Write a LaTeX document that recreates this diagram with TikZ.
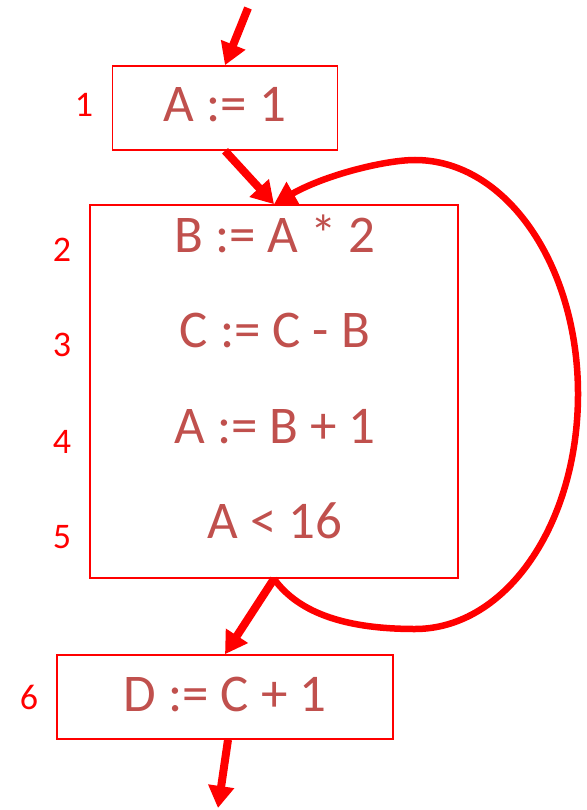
\documentclass[tikz,border=0pt]{standalone}
\usepackage{fontspec}
\setmainfont{Carlito}
\usepackage{tikz}
\usetikzlibrary{arrows.meta}
\definecolor{CFGRed}{RGB}{255,0,0}
\definecolor{CFGText}{RGB}{192,80,77}

\begin{document}
\begin{tikzpicture}[
    x=1pt,y=-1pt,
    block/.style={draw=CFGRed, line width=1.6pt, minimum height=84pt, inner sep=0pt, text height=33.5pt, text depth=5.5pt, font=\fontsize{53}{60}\selectfont, text=CFGText},
    stmt/.style={anchor=base, font=\fontsize{53}{60}\selectfont, text=CFGText},
    lineno/.style={anchor=base, font=\fontsize{36}{40}\selectfont, text=CFGRed},
    flow/.style={-{Triangle[length=22pt, width=25pt]}, line width=8pt, draw=CFGRed},
    back/.style={flow, line width=6.5pt}
  ]
    \useasboundingbox (0,0) rectangle (586,810);
    % basic blocks
    \node[block, minimum width=225pt] (b1) at (225,108) {A := 1};
    \node[block, minimum width=368pt, minimum height=373pt] (b2) at (274,391.5) {};
    \node[block, minimum width=336pt] (b6) at (225,697) {D := C + 1};
    \foreach \y/\name/\lab in {252/s2/{B := A * 2},347/s3/{C := C - B},443/s4/{A := B + 1},538/s5/{A < 16}} {
      \node[stmt] (\name) at (275,\y) {\lab};
    }
    % statement numbers
    \foreach \x/\y/\name/\lab in {84/117/n1/1,62/261/n2/2,62/356/n3/3,62/453/n4/4,62/548/n5/5,29/709/n6/6} {
      \node[lineno] (\name) at (\x,\y) {\lab};
    }
    % edges
    \coordinate (entry) at (248,8);
    \coordinate (exit) at (218,808);
    \draw[flow] (entry) -- (b1.north);
    \draw[flow] (b1.south) -- (b2.north);
    \draw[flow] (b2.south) -- (b6.north);
    \draw[flow] ([xshift=3pt]b6.south) -- (exit);
    \draw[back] (b2.south) .. controls (300,615) and (350,629) .. (415,629)
      .. controls (506,629) and (578,524) .. (578,394)
      .. controls (578,265) and (506,160) .. (415,160)
      .. controls (385,160) and (325,175) .. (b2.north);
  \end{tikzpicture}
\end{document}
